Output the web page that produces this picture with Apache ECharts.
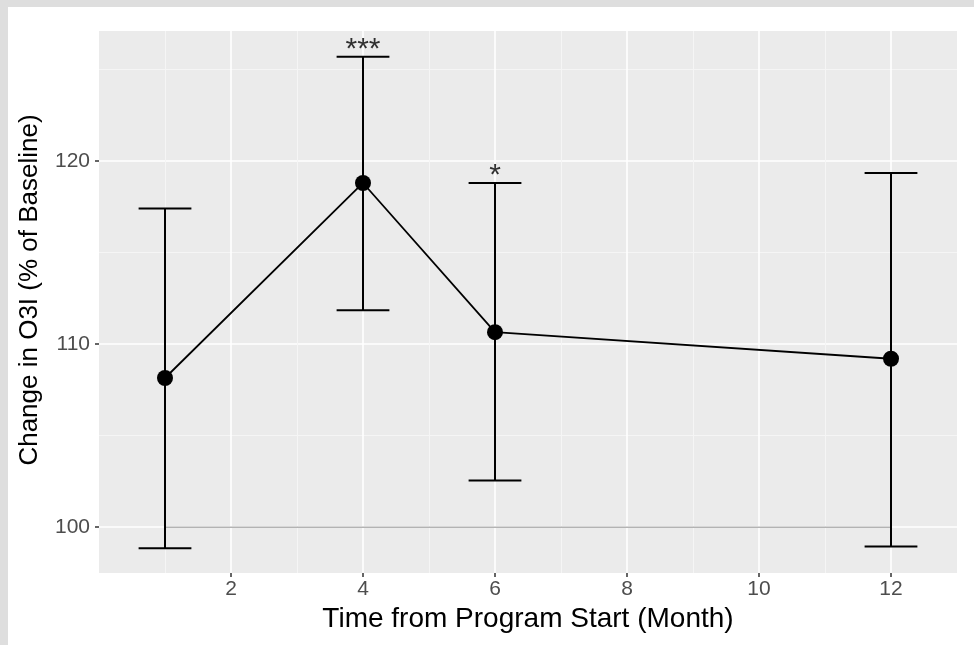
<!DOCTYPE html>
<html>
<head>
<meta charset="utf-8">
<script src="https://cdn.jsdelivr.net/npm/echarts@6/dist/echarts.min.js"></script>
<style>
  html, body { margin: 0; padding: 0; width: 974px; height: 645px; overflow: hidden; background: #dedede; }
  #chart { position: absolute; left: 8px; top: 7px; width: 966px; height: 638px; background: #ffffff; }
</style>
</head>
<body>
<div id="chart"></div>
<script>
// values
const months = [1, 4, 6, 12];
const meanChange = [108.15, 118.8, 110.65, 109.2];
const lowerCI = [98.85, 111.85, 102.55, 98.95];
const upperCI = [117.4, 125.7, 118.8, 119.35];
const stars = ["", "***", "*", ""];
const xTickLabels = [2, 4, 6, 8, 10, 12];
const xMinorLines = [1, 3, 5, 7, 9, 11];
const yTickLabels = [100, 110, 120];
const yMinorLines = [105, 115, 125];
const baselineLine = [[1, 100], [12, 100]];

const capWidth = 0.8; // error bar width in x units
const xRange = [0, 13];
const yRange = [97.5, 127.1];

const chartDom = document.getElementById("chart");
const myChart = echarts.init(chartDom);

const pointData = months.map((m, i) => [m, meanChange[i]]);
const errData = months.map((m, i) => [m, lowerCI[i], upperCI[i]]);
const starData = months
    .map((m, i) => [m, upperCI[i], stars[i]])
    .filter(d => d[2] !== "");

// hidden axis used only to draw the thin minor grid lines
function minorAxis(values, range) {
    return {
        type: "value",
        min: range[0],
        max: range[1],
        axisLine: { show: false },
        axisTick: { show: false, customValues: values },
        axisLabel: { show: false, customValues: values },
        splitLine: {
            show: true,
            lineStyle: { color: "#f5f5f5", width: 1 },
        },
    };
}

const option = {
    animation: false,
    textStyle: { fontFamily: "Liberation Sans, Arial, sans-serif" },
    grid: {
        left: 91,
        right: 17,
        top: 24,
        bottom: 72,
        show: true,
        backgroundColor: "#ebebeb",
        borderWidth: 0,
    },
    xAxis: [
        {
            type: "value",
            min: xRange[0],
            max: xRange[1],
            name: "Time from Program Start (Month)",
            nameLocation: "middle",
            nameGap: 30,
            nameTextStyle: { color: "#000", fontSize: 28 },
            axisLine: { show: false },
            axisTick: {
                show: true,
                length: 4,
                customValues: xTickLabels,
                lineStyle: { color: "#333", width: 1.5 },
            },
            axisLabel: {
                customValues: xTickLabels,
                color: "#4d4d4d",
                fontSize: 21,
                margin: 6,
            },
            splitLine: {
                show: true,
                lineStyle: { color: "#ffffff", width: 1.6 },
            },
        },
        minorAxis(xMinorLines, xRange),
    ],
    yAxis: [
        {
            type: "value",
            min: yRange[0],
            max: yRange[1],
            name: "Change in O3I (% of Baseline)",
            nameLocation: "middle",
            nameGap: 56,
            nameTextStyle: { color: "#000", fontSize: 26, padding: [0, 0, 0, 24] },
            axisLine: { show: false },
            axisTick: {
                show: true,
                length: 4,
                customValues: yTickLabels,
                lineStyle: { color: "#333", width: 1.5 },
            },
            axisLabel: {
                customValues: yTickLabels,
                color: "#4d4d4d",
                fontSize: 21,
                margin: 9,
            },
            splitLine: {
                show: true,
                lineStyle: { color: "#ffffff", width: 1.6 },
            },
        },
        minorAxis(yMinorLines, yRange),
    ],
    series: [
        {
            type: "line",
            data: baselineLine,
            symbol: "none",
            lineStyle: { color: "#b3b3b3", width: 1.5 },
            z: 3,
        },
        {
            type: "custom",
            data: errData,
            encode: { x: 0, y: [1, 2] },
            z: 4,
            renderItem: function (params, api) {
                const x = api.value(0);
                const lo = api.coord([x, api.value(1)]);
                const hi = api.coord([x, api.value(2)]);
                const half = api.size([capWidth / 2, 0])[0];
                const style = { stroke: "#000", lineWidth: 2 };
                return {
                    type: "group",
                    children: [
                        { type: "line", shape: { x1: lo[0], y1: lo[1], x2: hi[0], y2: hi[1] }, style: style },
                        { type: "line", shape: { x1: hi[0] - half, y1: hi[1], x2: hi[0] + half, y2: hi[1] }, style: style },
                        { type: "line", shape: { x1: lo[0] - half, y1: lo[1], x2: lo[0] + half, y2: lo[1] }, style: style },
                    ],
                };
            },
        },
        {
            type: "line",
            data: pointData,
            symbol: "circle",
            symbolSize: 16,
            itemStyle: { color: "#000" },
            lineStyle: { color: "#000", width: 1.8 },
            z: 5,
        },
        {
            type: "scatter",
            data: starData,
            symbolSize: 0,
            z: 6,
            label: {
                show: true,
                position: "top",
                distance: -8,
                color: "#000",
                fontSize: 30,
                formatter: function (p) {
                    return p.value[2];
                },
            },
        },
    ],
};
myChart.setOption(option);
</script>
</body>
</html>
